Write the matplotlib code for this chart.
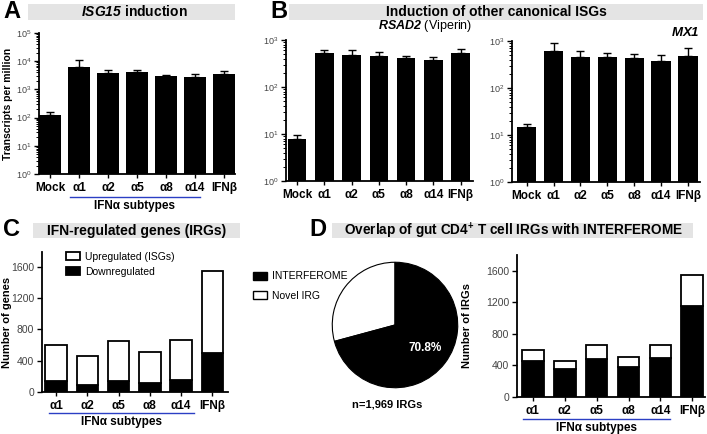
import numpy as np
import matplotlib
matplotlib.use('Agg')
import matplotlib.pyplot as plt
from matplotlib.patches import Rectangle, Patch
from matplotlib.ticker import LogLocator, NullFormatter

plt.rcParams.update({
    'font.family': ['Liberation Sans', 'DejaVu Sans'],
    'mathtext.fontset': 'custom',
    'mathtext.rm': 'Liberation Sans',
    'mathtext.sf': 'Liberation Sans:italic:bold',
    'mathtext.bf': 'Liberation Sans:bold',
    'axes.linewidth': 1.3,
    'xtick.major.width': 1.0,
    'ytick.major.width': 1.0,
    'ytick.minor.width': 0.7,
    'xtick.major.size': 3,
    'ytick.major.size': 3.5,
    'ytick.minor.size': 2,
})

W, H = 707, 434
BLUE = '#2b3fc4'

# --- Data ---
groups = ['Mock', 'α1', 'α2', 'α5', 'α8', 'α14', 'IFNβ']
isg15_mean = [120, 6400, 3800, 4000, 3000, 2700, 3600]
isg15_err = [35, 4600, 1200, 900, 250, 700, 900]
rsad2_mean = [8, 520, 470, 450, 420, 380, 520]
rsad2_err = [1.5, 80, 130, 100, 40, 50, 120]
mx1_mean = [15, 620, 463, 450, 430, 370, 480]
mx1_err = [2.5, 300, 160, 100, 110, 140, 220]

subtypes = ['α1', 'α2', 'α5', 'α8', 'α14', 'IFNβ']
irg_total = [600, 455, 655, 510, 660, 1550]
irg_down = [145, 85, 145, 110, 150, 495]
irg_interferome = [460, 360, 480, 385, 490, 1150]

pie_labels = ['Novel IRG', 'INTERFEROME']
pie_pct = [29.2, 70.8]


def px(x0, y0, x1, y1):
    return [x0 / W, 1 - y1 / H, (x1 - x0) / W, (y1 - y0) / H]


def header(x0, y0, x1, y1, text, xc=None, size=10, **kw):
    fig.add_artist(Rectangle((x0 / W, 1 - y1 / H), (x1 - x0) / W, (y1 - y0) / H,
                             transform=fig.transFigure, facecolor='#e4e4e4',
                             edgecolor='none', zorder=0))
    xc = (x0 + x1) / 2 if xc is None else xc
    fig.text(xc / W, 1 - (y0 + y1) / 2 / H, text, ha='center', va='center',
             fontsize=size, fontweight='bold', **kw)


def style(ax, ysize=6.5):
    ax.spines['top'].set_visible(False)
    ax.spines['right'].set_visible(False)
    ax.tick_params(axis='y', labelsize=ysize, labelcolor='#444444', pad=2)
    ax.tick_params(axis='x', labelsize=8.5, pad=3)
    for t in ax.get_xticklabels():
        t.set_fontweight('bold')


def log_bars(ax, mean, err, top, width, xlim):
    x = np.arange(len(groups))
    ax.bar(x, mean, width, color='black', zorder=2)
    ax.errorbar(x, mean, yerr=[np.zeros(len(mean)), err], fmt='none',
                ecolor='black', elinewidth=1, capsize=3, capthick=1, zorder=1)
    ax.set_yscale('log')
    ax.set_ylim(1, top)
    ax.set_xlim(*xlim)
    ax.yaxis.set_major_locator(LogLocator(base=10, numticks=10))
    ax.yaxis.set_minor_locator(LogLocator(base=10, subs=np.arange(2, 10), numticks=20))
    ax.yaxis.set_minor_formatter(NullFormatter())
    ax.set_xticks(x)
    ax.set_xticklabels(groups)
    style(ax)


def subtype_note(ax, x0, x1, yl, yt):
    tr = ax.get_xaxis_transform()
    ax.plot([x0, x1], [yl, yl], color=BLUE, lw=1, transform=tr, clip_on=False)
    ax.text((x0 + x1) / 2, yt, 'IFNα subtypes', transform=tr, ha='center',
            va='center', fontsize=8.5, fontweight='bold')


fig = plt.figure(figsize=(W / 100, H / 100), dpi=100)

# --- Panel A ---
header(28, 4, 235, 20, r'$\mathsf{ISG15}$ induction', xc=134)
fig.text(3 / W, 1 - 12 / H, 'A', fontsize=17, fontweight='bold', va='center')
axA = fig.add_axes(px(39, 33, 235, 174))
log_bars(axA, isg15_mean, isg15_err, 1e5, 0.76, (-0.38, 6.38))
axA.set_ylabel('Transcripts per million', fontsize=7.5, fontweight='bold')
axA.yaxis.set_label_coords(-0.135, 0.5)
subtype_note(axA, 0.69, 5.17, -0.163, -0.225)

# --- Panel B ---
header(289, 4, 703, 20, 'Induction of other canonical ISGs', xc=496)
fig.text(270 / W, 1 - 12 / H, 'B', fontsize=17, fontweight='bold', va='center')
axB1 = fig.add_axes(px(286, 40, 473, 181))
log_bars(axB1, rsad2_mean, rsad2_err, 1e3, 0.68, (-0.4, 6.45))
fig.text(472 / W, 1 - 26 / H, r'$\mathsf{RSAD2}$ (Viperin)', ha='right', va='center',
         fontsize=9)
axB2 = fig.add_axes(px(512, 41, 700, 182))
log_bars(axB2, mx1_mean, mx1_err, 1e3, 0.72, (-0.55, 6.45))
fig.text(700 / W, 1 - 32 / H, r'$\mathsf{MX1}$', ha='right', va='center', fontsize=9.5)

# --- Panel C ---
header(33, 223, 240, 238, 'IFN-regulated genes (IRGs)')
fig.text(3 / W, 1 - 229 / H, 'C', fontsize=17, fontweight='bold', va='center')
axC = fig.add_axes(px(42, 252, 228, 392))
xs = np.arange(len(subtypes))
up = np.array(irg_total) - np.array(irg_down)
axC.bar(xs, irg_down, 0.69, color='black', edgecolor='black', linewidth=1.3,
        label='Downregulated')
axC.bar(xs, up, 0.69, bottom=irg_down, color='white', edgecolor='black',
        linewidth=1.3, label='Upregulated (ISGs)')
axC.set_ylim(0, 1790)
axC.set_xlim(-0.45, 5.5)
axC.set_yticks([0, 400, 800, 1200, 1600])
axC.set_xticks(xs)
axC.set_xticklabels(subtypes)
style(axC, 7.5)
axC.set_ylabel('Number of genes', fontsize=8, fontweight='bold')
axC.yaxis.set_label_coords(-0.163, 0.5)
h, l = axC.get_legend_handles_labels()
axC.legend(h[::-1], l[::-1], loc='upper left', bbox_to_anchor=(0.08, 1.07),
           frameon=False, fontsize=7.5, handlelength=1.3, handleheight=0.8,
           labelspacing=0.5, handletextpad=0.5)
subtype_note(axC, -0.22, 4.4, -0.15, -0.214)

# --- Panel D ---
header(332, 223, 693, 238,
       r'Overlap of gut CD4$^{\bf{+}}$ T cell IRGs with INTERFEROME', xc=514, size=9.8)
fig.text(309 / W, 1 - 229 / H, 'D', fontsize=17, fontweight='bold', va='center')
axP = fig.add_axes(px(331, 261, 459, 389))
axP.pie(pie_pct, colors=['white', 'black'], startangle=90, counterclock=True,
        wedgeprops=dict(edgecolor='black', linewidth=0.8))
axP.set_xlim(-1.02, 1.02)
axP.set_ylim(-1.02, 1.02)
axP.set_aspect('equal')
axP.text(0.48, -0.37, f'{pie_pct[1]}%', color='white', fontsize=8.5,
         fontweight='bold', ha='center', va='center')
axP.text(-0.13, -1.27, 'n=1,969 IRGs', fontsize=8, fontweight='bold',
         ha='center', va='center')
fig.legend(handles=[Patch(facecolor='black', edgecolor='black', label=pie_labels[1]),
                    Patch(facecolor='white', edgecolor='black', label=pie_labels[0])],
           loc='upper left', bbox_to_anchor=(244 / W, 1 - 262 / H), frameon=False,
           fontsize=7.5, handlelength=1.3, handleheight=0.8, labelspacing=0.9,
           handletextpad=0.5)

axD = fig.add_axes(px(517, 255, 705, 397))
novel = np.array(irg_total) - np.array(irg_interferome)
axD.bar(xs, irg_interferome, 0.68, color='black', edgecolor='black', linewidth=1.3)
axD.bar(xs, novel, 0.68, bottom=irg_interferome, color='white', edgecolor='black',
        linewidth=1.3)
axD.set_ylim(0, 1800)
axD.set_xlim(-0.5, 5.4)
axD.set_yticks([0, 400, 800, 1200, 1600])
axD.set_xticks(xs)
axD.set_xticklabels(subtypes)
style(axD, 7.5)
axD.set_ylabel('Number of IRGs', fontsize=8, fontweight='bold')
axD.yaxis.set_label_coords(-0.24, 0.5)
subtype_note(axD, -0.31, 4.29, -0.155, -0.22)

fig.savefig('out.png', dpi=100)
